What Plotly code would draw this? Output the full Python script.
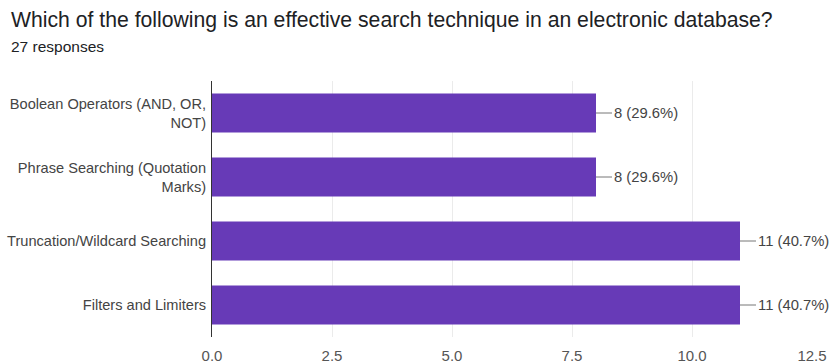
import plotly.graph_objects as go

# Survey responses
categories = [
    "Boolean Operators (AND, OR,<br>NOT)",
    "Phrase Searching (Quotation<br>Marks)",
    "Truncation/Wildcard Searching",
    "Filters and Limiters",
]
counts = [8, 8, 11, 11]
total_responses = 27
x_ticks = [0, 2.5, 5, 7.5, 10, 12.5]
x_tick_labels = ["0.0", "2.5", "5.0", "7.5", "10.0", "12.5"]

title_text = "Which of the following is an effective search technique in an electronic database?"
subtitle_text = f"{total_responses} responses"

bar_color = "#673ab7"
base_family = "Arial, Liberation Sans, sans-serif"
label_font = dict(family=base_family, size=14.6, color="#444444")
value_font = dict(family=base_family, size=14.8, color="#444444")
tick_font = dict(family=base_family, size=15, color="#555555")

W, H = 833, 364
M_L, M_R, M_T, M_B = 212, 21, 81, 27
plot_w = W - M_L - M_R
plot_h = H - M_T - M_B

fig = go.Figure(
    go.Bar(
        x=counts,
        y=categories,
        orientation="h",
        marker=dict(color=bar_color, line=dict(width=0)),
        width=0.61,
        hoverinfo="skip",
    )
)

# Value labels with a short leader line from each bar end
for cat, n in zip(categories, counts):
    pct = 100 * n / total_responses
    fig.add_annotation(
        x=n,
        y=cat,
        xref="x",
        yref="y",
        text=f"{n} ({pct:.1f}%)",
        showarrow=True,
        arrowhead=0,
        arrowwidth=1,
        arrowcolor="#777777",
        ax=16,
        ay=0,
        xanchor="left",
        standoff=0,
        startstandoff=0,
        font=value_font,
    )

# Response count under the question
fig.add_annotation(
    text=subtitle_text,
    xref="paper", yref="paper",
    x=(11 - M_L) / plot_w,
    y=(H - M_B - 46) / plot_h,
    xanchor="left", yanchor="middle",
    xshift=-2,
    showarrow=False,
    font=dict(family=base_family, size=15.5, color="#202124"),
)

fig.update_layout(
    width=W,
    height=H,
    margin=dict(l=M_L, r=M_R, t=M_T, b=M_B, autoexpand=False),
    paper_bgcolor="white",
    plot_bgcolor="white",
    showlegend=False,
    font=label_font,
    bargap=0.39,
    title=dict(
        text=title_text,
        x=11 / W, xanchor="left",
        y=1 - 20 / H, yanchor="middle",
        font=dict(family=base_family, size=21.2, color="#202124"),
    ),
    xaxis=dict(
        range=[0, 12.5],
        tickvals=x_ticks,
        ticktext=x_tick_labels,
        showgrid=True,
        gridcolor="#ebebeb",
        gridwidth=1,
        zeroline=False,
        showline=False,
        ticks="",
        ticklabelstandoff=8,
        tickfont=tick_font,
        automargin=False,
        fixedrange=True,
    ),
    yaxis=dict(
        autorange="reversed",
        showline=True,
        linecolor="#333333",
        linewidth=1,
        ticks="",
        ticklabelstandoff=2,
        tickfont=label_font,
        automargin=False,
        fixedrange=True,
    ),
)

fig.write_html("out.html")
